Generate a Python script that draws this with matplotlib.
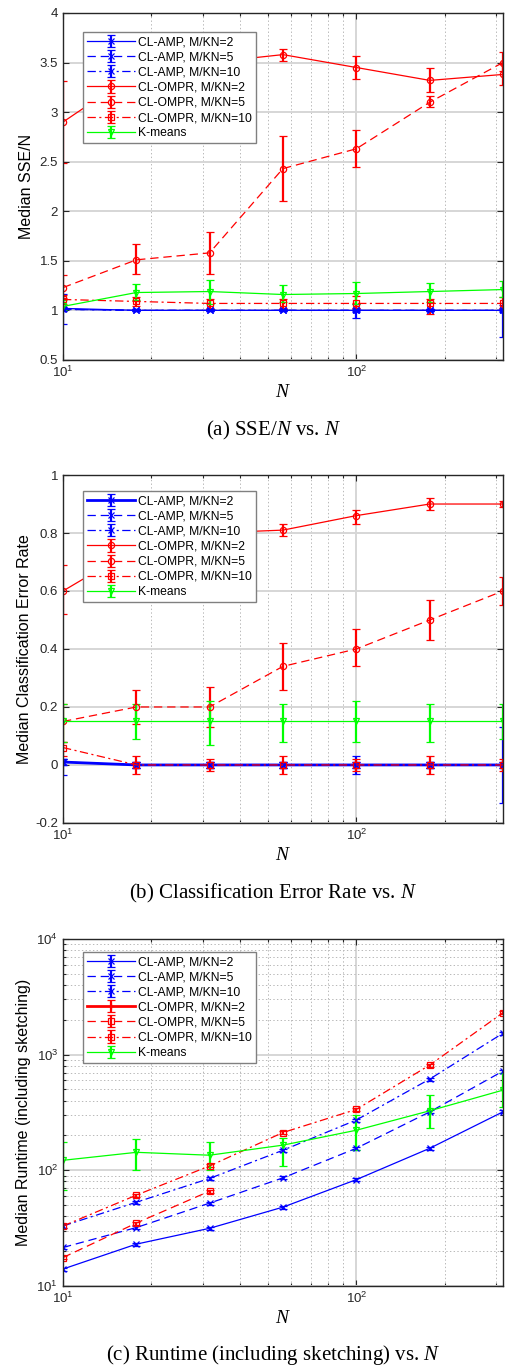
import numpy as np
import matplotlib
matplotlib.use("Agg")
import matplotlib.pyplot as plt
from matplotlib.ticker import (LogLocator, NullFormatter, MultipleLocator,
                               FormatStrFormatter)

plt.rcParams["font.family"] = ["Liberation Sans", "DejaVu Sans"]
plt.rcParams["mathtext.fontset"] = "custom"
plt.rcParams["mathtext.rm"] = "Liberation Sans"
plt.rcParams["mathtext.it"] = "Liberation Serif:italic"
plt.rcParams["mathtext.bf"] = "Liberation Sans:bold"
plt.rcParams["lines.scale_dashes"] = False
plt.rcParams["lines.dashed_pattern"] = [6, 3.5]
plt.rcParams["lines.dashdot_pattern"] = [6, 2.5, 1.5, 2.5]

# number of clusters N (log spaced)
N = [10, 17.8, 31.6, 56.2, 100, 178, 316]

LABELS = ["CL-AMP, M/KN=2", "CL-AMP, M/KN=5", "CL-AMP, M/KN=10",
          "CL-OMPR, M/KN=2", "CL-OMPR, M/KN=5", "CL-OMPR, M/KN=10",
          "K-means"]

# --- (a) median SSE/N, with error bar bounds ---
sse_amp2 = [1.02, 1.00, 1.00, 1.00, 1.00, 1.00, 1.00]
sse_amp2_lo = [0.86, 0.99, 0.99, 0.99, 0.92, 0.99, 0.73]
sse_amp2_hi = [1.17, 1.01, 1.01, 1.01, 1.06, 1.01, 1.05]
sse_amp5 = [1.01, 1.00, 1.00, 1.00, 1.00, 1.00, 1.00]
sse_amp5_lo = [0.99, 0.99, 0.99, 0.99, 0.98, 0.99, 0.98]
sse_amp5_hi = [1.03, 1.01, 1.01, 1.01, 1.02, 1.01, 1.02]
sse_amp10 = [1.01, 1.00, 1.00, 1.00, 1.00, 1.00, 1.00]
sse_amp10_lo = [0.99, 0.99, 0.99, 0.99, 0.99, 0.99, 0.99]
sse_amp10_hi = [1.03, 1.01, 1.01, 1.01, 1.01, 1.01, 1.01]
sse_ompr2 = [2.90, 3.40, 3.50, 3.58, 3.45, 3.32, 3.38]
sse_ompr2_lo = [2.49, 3.30, 3.42, 3.52, 3.33, 3.20, 3.27]
sse_ompr2_hi = [3.31, 3.50, 3.58, 3.64, 3.57, 3.44, 3.49]
sse_ompr5 = [1.23, 1.51, 1.58, 2.43, 2.63, 3.10, 3.50]
sse_ompr5_lo = [1.12, 1.37, 1.37, 2.10, 2.45, 3.05, 3.41]
sse_ompr5_hi = [1.36, 1.67, 1.79, 2.76, 2.82, 3.16, 3.61]
sse_ompr10 = [1.11, 1.09, 1.07, 1.07, 1.07, 1.07, 1.07]
sse_ompr10_lo = [1.06, 1.04, 1.02, 1.02, 1.02, 0.96, 1.02]
sse_ompr10_hi = [1.16, 1.13, 1.11, 1.11, 1.14, 1.11, 1.13]
sse_km = [1.04, 1.18, 1.19, 1.16, 1.17, 1.19, 1.21]
sse_km_lo = [1.00, 1.10, 1.06, 1.08, 1.06, 1.08, 1.13]
sse_km_hi = [1.10, 1.27, 1.31, 1.26, 1.29, 1.28, 1.30]

# --- (b) median classification error rate ---
cer_amp2 = [0.01, 0.00, 0.00, 0.00, 0.00, 0.00, 0.00]
cer_amp2_lo = [-0.035, -0.01, -0.01, -0.01, -0.03, -0.01, -0.13]
cer_amp2_hi = [0.02, 0.01, 0.01, 0.01, 0.03, 0.01, 0.13]
cer_amp5 = [0.01, 0.00, 0.00, 0.00, 0.00, 0.00, 0.00]
cer_amp5_lo = [0.00, -0.01, -0.01, -0.01, -0.01, -0.01, -0.01]
cer_amp5_hi = [0.02, 0.01, 0.01, 0.01, 0.01, 0.01, 0.01]
cer_amp10 = [0.01, 0.00, 0.00, 0.00, 0.00, 0.00, 0.00]
cer_amp10_lo = [0.00, -0.01, -0.01, -0.01, -0.01, -0.01, -0.01]
cer_amp10_hi = [0.02, 0.01, 0.01, 0.01, 0.01, 0.01, 0.01]
cer_ompr2 = [0.60, 0.75, 0.80, 0.81, 0.86, 0.90, 0.90]
cer_ompr2_lo = [0.52, 0.71, 0.77, 0.79, 0.83, 0.88, 0.89]
cer_ompr2_hi = [0.69, 0.79, 0.83, 0.83, 0.88, 0.92, 0.91]
cer_ompr5 = [0.15, 0.20, 0.20, 0.34, 0.40, 0.50, 0.60]
cer_ompr5_lo = [0.08, 0.14, 0.13, 0.26, 0.34, 0.43, 0.55]
cer_ompr5_hi = [0.21, 0.26, 0.27, 0.42, 0.47, 0.57, 0.65]
cer_ompr10 = [0.06, 0.00, 0.00, 0.00, 0.00, 0.00, 0.00]
cer_ompr10_lo = [0.03, -0.03, -0.02, -0.03, -0.02, -0.03, -0.02]
cer_ompr10_hi = [0.08, 0.03, 0.02, 0.03, 0.02, 0.03, 0.02]
cer_km = [0.15, 0.15, 0.15, 0.15, 0.15, 0.15, 0.15]
cer_km_lo = [0.08, 0.09, 0.07, 0.08, 0.08, 0.08, 0.09]
cer_km_hi = [0.21, 0.21, 0.22, 0.21, 0.22, 0.21, 0.21]

# --- (c) median runtime incl. sketching (nan = not run) ---
rt_amp2 = [14, 23, 31.5, 48, 83, 155, 320]
rt_amp5 = [21.5, 32, 52, 86, 155, 320, 720]
rt_amp10 = [33, 53, 85, 149, 272, 615, 1530]
rt_ompr2 = [np.nan] * 7
rt_ompr5 = [17.6, 35, 66, np.nan, np.nan, np.nan, np.nan]
rt_ompr10 = [33, 61, 109, 212, 336, 813, 2300]
rt_km = [122, 143, 135, 165, 222, 327, 493]
rt_km_lo = [68, 100, 100, 110, 150, 230, 350]
rt_km_hi = [175, 185, 175, 190, 300, 450, 700]

BLUE, RED, GREEN = "#0000ff", "#ff0000", "#00ff00"
STYLES = [
    dict(color=BLUE, ls="-", marker="x"),
    dict(color=BLUE, ls="--", marker="x"),
    dict(color=BLUE, ls="-.", marker="x"),
    dict(color=RED, ls="-", marker="o"),
    dict(color=RED, ls="--", marker="o"),
    dict(color=RED, ls="-.", marker="s"),
    dict(color=GREEN, ls="-", marker="v"),
]


def rel(vals, frac):
    # small symmetric spread for the runtime curves
    v = np.asarray(vals, float)
    return v * (1 - frac), v * (1 + frac)


def series(ax, med, lo, hi, st, lw=0.9):
    med = np.asarray(med, float)
    yerr = [med - np.asarray(lo, float), np.asarray(hi, float) - med]
    return ax.errorbar(N, med, yerr=yerr, color=st["color"], ls=st["ls"],
                       lw=lw, marker=st["marker"], ms=4.5, mfc="none",
                       mew=0.9, elinewidth=1.6, capsize=2.6, capthick=1.6)


def style_axes(ax, logy=False):
    ax.set_xscale("log")
    ax.set_xlim(10, 316.2)
    if logy:
        ax.set_yscale("log")
    ax.grid(True, which="major", color="#d6d6d6", lw=1.4, ls="-")
    ax.grid(True, which="minor", axis="x", color="#b8b8b8", lw=0.7, ls=":")
    if logy:
        ax.grid(True, which="minor", axis="y", color="#b8b8b8", lw=0.7, ls=":")
    ax.set_axisbelow(True)
    ax.xaxis.set_minor_locator(LogLocator(10, subs=np.arange(2, 10)))
    ax.xaxis.set_minor_formatter(NullFormatter())
    ax.tick_params(which="both", direction="in", top=True, right=True,
                   labelsize=9.5, colors="#262626", width=0.8)
    ax.tick_params(which="major", length=4)
    ax.tick_params(which="minor", length=2.5)
    for s in ax.spines.values():
        s.set_color("#262626")
        s.set_linewidth(1.0)
    ax.set_xlabel("$N$", fontsize=14, labelpad=3)


def legend(ax, top):
    ax.legend(loc="upper left", bbox_to_anchor=(0.045, top), fontsize=8.7,
              frameon=True, fancybox=False, edgecolor="#808080",
              framealpha=1, handlelength=4.0, handletextpad=0.2,
              labelspacing=0.26, borderpad=0.35, borderaxespad=0)


fig = plt.figure(figsize=(5.06, 13.67), dpi=100)
W = 0.994 - 0.1245

# (a)
ax = fig.add_axes([0.1245, 0.7367, W, 0.2538])
style_axes(ax)
sse = [(sse_amp2, sse_amp2_lo, sse_amp2_hi), (sse_amp5, sse_amp5_lo, sse_amp5_hi),
       (sse_amp10, sse_amp10_lo, sse_amp10_hi), (sse_ompr2, sse_ompr2_lo, sse_ompr2_hi),
       (sse_ompr5, sse_ompr5_lo, sse_ompr5_hi), (sse_ompr10, sse_ompr10_lo, sse_ompr10_hi),
       (sse_km, sse_km_lo, sse_km_hi)]
for (m, lo, hi), st, lab in zip(sse, STYLES, LABELS):
    series(ax, m, lo, hi, st).set_label(lab)
ax.set_ylim(0.5, 4)
ax.yaxis.set_major_locator(MultipleLocator(0.5))
ax.yaxis.set_major_formatter(FormatStrFormatter("%g"))
ax.set_ylabel("Median SSE/N", fontsize=11.5, labelpad=4)
legend(ax, 0.945)

# (b)
ax = fig.add_axes([0.1245, 0.398, W, 0.2545])
style_axes(ax)
cer = [(cer_amp2, cer_amp2_lo, cer_amp2_hi), (cer_amp5, cer_amp5_lo, cer_amp5_hi),
       (cer_amp10, cer_amp10_lo, cer_amp10_hi), (cer_ompr2, cer_ompr2_lo, cer_ompr2_hi),
       (cer_ompr5, cer_ompr5_lo, cer_ompr5_hi), (cer_ompr10, cer_ompr10_lo, cer_ompr10_hi),
       (cer_km, cer_km_lo, cer_km_hi)]
for i, ((m, lo, hi), st, lab) in enumerate(zip(cer, STYLES, LABELS)):
    series(ax, m, lo, hi, st, lw=2.0 if i == 0 else 0.9).set_label(lab)
ax.set_ylim(-0.2, 1)
ax.yaxis.set_major_locator(MultipleLocator(0.2))
ax.yaxis.set_major_formatter(FormatStrFormatter("%g"))
ax.set_ylabel("Median Classification Error Rate", fontsize=11.5, labelpad=2)
legend(ax, 0.954)

# (c)
ax = fig.add_axes([0.1245, 0.0593, W, 0.2538])
style_axes(ax, logy=True)
rt = [rt_amp2, rt_amp5, rt_amp10, rt_ompr2, rt_ompr5, rt_ompr10]
for i, (m, st, lab) in enumerate(zip(rt, STYLES[:6], LABELS[:6])):
    lo, hi = rel(m, 0.03)
    s = dict(st)
    s["marker"] = "+" if i == 3 else ("s" if i > 3 else "x")
    series(ax, m, lo, hi, s, lw=2.0 if i == 3 else 0.9).set_label(lab)
series(ax, rt_km, rt_km_lo, rt_km_hi, STYLES[6]).set_label(LABELS[6])
ax.set_ylim(10, 1e4)
ax.yaxis.set_minor_locator(LogLocator(10, subs=np.arange(2, 10)))
ax.yaxis.set_minor_formatter(NullFormatter())
ax.set_ylabel("Median Runtime (including sketching)", fontsize=11.5, labelpad=4)
legend(ax, 0.963)

cap = dict(ha="center", va="center", fontsize=15, family="Liberation Serif")
fig.text(0.54, 1 - 430 / 1367, "(a) SSE/$N$ vs. $N$", **cap)
fig.text(0.54, 1 - 893 / 1367, "(b) Classification Error Rate vs. $N$", **cap)
fig.text(0.54, 1 - 1355 / 1367, "(c) Runtime (including sketching) vs. $N$", **cap)

fig.savefig("out.png", dpi=100)
